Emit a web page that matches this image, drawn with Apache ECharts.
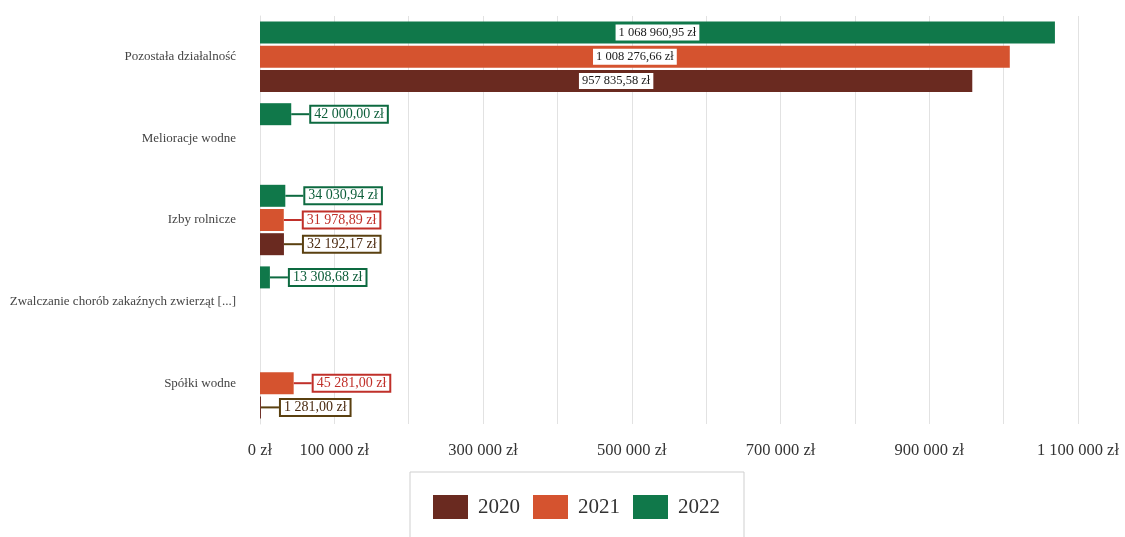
<!DOCTYPE html>
<html>
<head>
<meta charset="utf-8">
<script src="https://cdn.jsdelivr.net/npm/echarts@6/dist/echarts.min.js"></script>
<style>html,body{margin:0;padding:0;background:#fff}#c{width:1125px;height:537px}</style>
</head>
<body>
<div id="c"></div>
<script>
const categories = ['Pozostała działalność', 'Melioracje wodne', 'Izby rolnicze', 'Zwalczanie chorób zakaźnych zwierząt [...]', 'Spółki wodne'];
const years = ['2020', '2021', '2022'];
const values2020 = [957835.58, null, 32192.17, null, 1281.00];
const values2021 = [1008276.66, null, 31978.89, null, 45281.00];
const values2022 = [1068960.95, 42000.00, 34030.94, 13308.68, null];
const axisMax = 1100000;
const axisStep = 100000;

const colors = { '2020': '#6a2a20', '2021': '#d5532f', '2022': '#10784a' };
const textColors = { '2020': '#4a2a10', '2021': '#c0302a', '2022': '#0d5e3a' };
const borderColors = { '2020': '#5a4010', '2021': '#c0302a', '2022': '#0d6a40' };
const FONT = 'Liberation Serif';

function groupDigits(s) { return s.replace(/\B(?=(\d{3})+(?!\d))/g, ' '); }
function fmtMoney(v) { const p = v.toFixed(2).split('.'); return groupDigits(p[0]) + ',' + p[1] + ' zł'; }
function fmtAxis(v) { return groupDigits(String(Math.round(v))) + ' zł'; }

function makeSeries(year, values) {
  const data = values.map(function (v) {
    if (v == null) return null;
    const big = v > 500000;
    return {
      value: v,
      label: big ? {
        position: 'inside',
        color: '#1a1a1a',
        fontSize: 12.5,
        padding: [1, 3, 1, 3],
        backgroundColor: '#ffffff',
        borderColor: '#ffffff',
        borderWidth: 0
      } : {
        position: 'right',
        distance: 0,
        color: textColors[year],
        fontSize: 14,
        padding: [1, 3, 0, 3],
        backgroundColor: '#ffffff',
        borderColor: borderColors[year],
        borderWidth: 2
      },
      labelLine: { show: !big, lineStyle: { color: borderColors[year], width: 2 } }
    };
  });
  return {
    name: year,
    type: 'bar',
    barWidth: 22,
    barGap: '10%',
    itemStyle: { color: colors[year] },
    label: {
      show: true,
      formatter: function (p) { return fmtMoney(p.value); },
      fontFamily: FONT,
      lineHeight: 14
    },
    labelLayout: function (p) {
      const v = values[p.dataIndex];
      return (v != null && v <= 500000) ? { dx: 20 } : {};
    },
    data: data
  };
}

const chart = echarts.init(document.getElementById('c'), null, { renderer: 'canvas' });
chart.setOption({
  animation: false,
  backgroundColor: '#ffffff',
  legend: {
    data: years,
    top: 472,
    left: 410,
    padding: [23, 24, 23, 23],
    borderColor: '#cfcfcf',
    borderWidth: 1,
    itemWidth: 35,
    itemHeight: 24,
    itemGap: 13,
    icon: 'rect',
    textStyle: { fontFamily: FONT, fontSize: 21, color: '#333', padding: [0, 0, 0, 5] }
  },
  grid: { left: 260, right: 47, top: 16, bottom: 113, containLabel: false },
  xAxis: {
    type: 'value',
    min: 0,
    max: axisMax,
    interval: axisStep,
    axisLine: { show: false },
    axisTick: { show: false },
    splitLine: { show: true, lineStyle: { color: '#e2e2e2', width: 1 } },
    axisLabel: {
      fontFamily: FONT,
      fontSize: 16.5,
      color: '#333',
      margin: 18,
      formatter: function (v) {
        const k = Math.round(v / axisStep);
        return (k === 0 || k % 2 === 1) ? fmtAxis(v) : '';
      }
    }
  },
  yAxis: {
    type: 'category',
    data: categories,
    inverse: true,
    axisLine: { show: true, lineStyle: { color: '#e2e2e2' } },
    axisTick: { show: false },
    axisLabel: { fontFamily: FONT, fontSize: 13, color: '#444', margin: 24 }
  },
  series: [
    makeSeries('2022', values2022),
    makeSeries('2021', values2021),
    makeSeries('2020', values2020)
  ]
});
</script>
</body>
</html>
